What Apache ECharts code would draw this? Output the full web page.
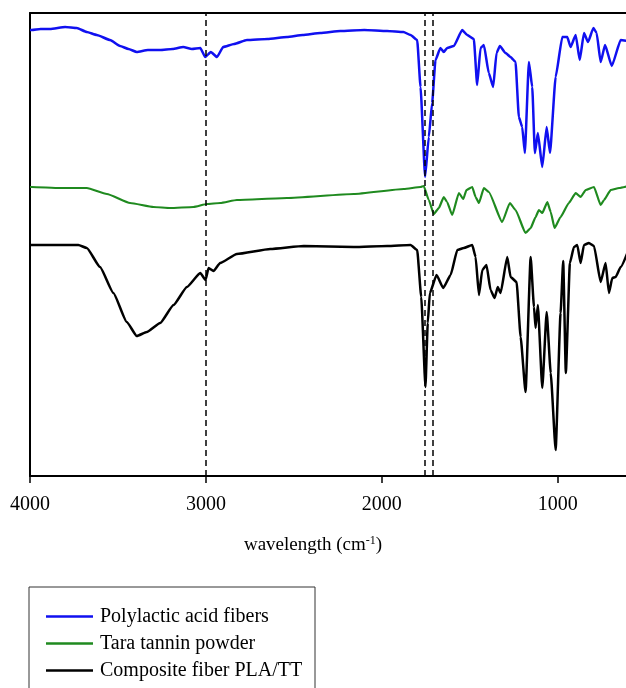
<!DOCTYPE html>
<html><head><meta charset="utf-8">
<script src="https://cdn.jsdelivr.net/npm/echarts@6/dist/echarts.min.js"></script>
<style>html,body{margin:0;padding:0;background:#fff}#c{width:626px;height:688px}</style>
</head><body><div id="c"></div>
<script>
// Spectra: [wavenumber (cm-1), relative transmittance (arbitrary, offset stacked)]
const plaFibers = [[4000,446],[3990,446],[3940,447],[3886,447],[3800,449],[3734,448],[3677,444],[3620,441],[3545,436],[3488,430],[3440,427],[3393,424],[3330,426],[3260,426],[3190,427],[3129,429],[3080,427],[3032,428],[3004,419],[2972,424],[2937,419],[2902,429],[2840,432],[2767,436],[2650,437],[2539,439],[2450,441],[2350,443],[2236,445],[2100,446],[1970,445],[1877,444],[1837,441],[1799,436],[1780,389],[1754,299],[1733,339],[1714,373],[1695,416],[1667,428],[1648,424],[1629,428],[1591,430],[1543,446],[1515,441],[1477,437],[1458,391],[1439,428],[1420,431],[1392,403],[1367,389],[1348,423],[1329,430],[1297,423],[1268,419],[1240,414],[1221,359],[1202,349],[1187,323],[1164,414],[1145,389],[1130,323],[1113,343],[1088,309],[1063,349],[1044,323],[1012,399],[974,439],[946,439],[927,429],[898,441],[875,416],[851,443],[828,434],[797,448],[779,443],[756,414],[731,431],[693,410],[642,436],[600,435]];
const taraTannin = [[4000,289],[3990,289],[3829,288],[3677,288],[3563,282],[3431,273],[3298,269],[3203,268],[3071,269],[2994,272],[2919,273],[2824,276],[2539,278],[2160,282],[1875,287],[1780,289],[1762,290],[1733,276],[1705,262],[1676,268],[1648,279],[1629,274],[1600,261],[1562,283],[1537,277],[1519,286],[1486,289],[1467,279],[1448,273],[1420,288],[1392,284],[1316,254],[1272,273],[1240,266],[1183,243],[1154,248],[1126,259],[1107,266],[1088,263],[1059,274],[1040,264],[1018,248],[984,259],[937,273],[898,283],[870,279],[841,286],[794,289],[756,271],[737,276],[699,286],[651,288],[600,290]];
const compositeFiber = [[4000,231],[3990,231],[3725,231],[3677,228],[3602,209],[3526,183],[3450,154],[3393,140],[3336,144],[3260,153],[3184,171],[3108,189],[3032,203],[3002,196],[2985,208],[2957,205],[2919,213],[2824,222],[2634,227],[2444,230],[2160,229],[1970,230],[1837,231],[1799,226],[1776,179],[1752,89],[1739,153],[1727,183],[1689,201],[1651,188],[1609,201],[1571,226],[1534,228],[1486,231],[1467,219],[1448,181],[1429,206],[1405,211],[1382,186],[1359,178],[1341,189],[1325,183],[1287,219],[1268,199],[1234,194],[1211,139],[1183,84],[1154,219],[1135,169],[1126,148],[1113,171],[1088,88],[1063,164],[1040,103],[1012,26],[984,163],[969,215],[954,103],[931,213],[908,229],[889,231],[870,213],[851,231],[823,233],[794,230],[756,194],[728,213],[709,183],[690,198],[671,199],[642,209],[600,225]];
const seriesNames = ['Polylactic acid fibers','Tara tannin powder','Composite fiber PLA/TT'];
const tickValues = [1000,2000,3000,4000];
const markerLines = [3000,1758,1712];

const chart = echarts.init(document.getElementById('c'));
const serif = '"Liberation Serif", "DejaVu Serif", serif';
const lineBase = {type:'line',showSymbol:false,smooth:0.15,smoothMonotone:'x',z:3};
chart.setOption({
  animation:false,
  grid:{left:30,top:13,bottom:212,right:0,show:false},
  xAxis:[{type:'value',inverse:true,min:612,max:4000,
    axisLine:{show:true,lineStyle:{color:'#000',width:2}},
    axisTick:{show:true,customValues:tickValues,length:7,lineStyle:{color:'#000',width:1.5}},
    axisLabel:{customValues:tickValues,color:'#000',fontFamily:serif,fontSize:20,margin:19,formatter:v=>String(v)},
    splitLine:{show:false}},
    {type:'value',position:'top',inverse:true,min:612,max:4000,axisLine:{show:true,lineStyle:{color:'#000',width:2}},axisTick:{show:false},axisLabel:{show:false},splitLine:{show:false}}],
  yAxis:{type:'value',min:0,max:463,axisLine:{show:true,lineStyle:{color:'#000',width:2}},axisTick:{show:false},axisLabel:{show:false},splitLine:{show:false}},
  legend:{orient:'vertical',left:41,top:601,itemWidth:47,itemHeight:2.5,itemGap:6,icon:'rect',
    textStyle:{color:'#000',fontFamily:serif,fontSize:20,lineHeight:21,padding:[0,0,0,2]},
    data:seriesNames},
  graphic:[
    {type:'rect',shape:{x:29,y:587,width:286,height:130},style:{fill:'none',stroke:'#333',lineWidth:1}},
    {type:'text',left:'center',x:0,top:535,style:{rich:{a:{fontFamily:serif,fontSize:19,fill:'#000'},s:{fontFamily:serif,fontSize:12,fill:'#000',verticalAlign:'top',padding:[0,0,9,0]}},text:'{a|wavelength (cm}{s|-1}{a|)}'}}
  ],
  series:[
    Object.assign({},lineBase,{name:seriesNames[0],data:plaFibers,lineStyle:{color:'#1010f0',width:2.5},itemStyle:{color:'#1010f0'},
     markLine:{silent:true,symbol:['none','none'],label:{show:false},lineStyle:{color:'#000',type:[6,4],width:1.5},data:markerLines.map(v=>({xAxis:v}))}}),
    Object.assign({},lineBase,{name:seriesNames[1],data:taraTannin,lineStyle:{color:'#1f8a1f',width:2.2},itemStyle:{color:'#1f8a1f'}}),
    Object.assign({},lineBase,{name:seriesNames[2],data:compositeFiber,lineStyle:{color:'#000',width:2.5},itemStyle:{color:'#000'}})
  ]
});
</script></body></html>
